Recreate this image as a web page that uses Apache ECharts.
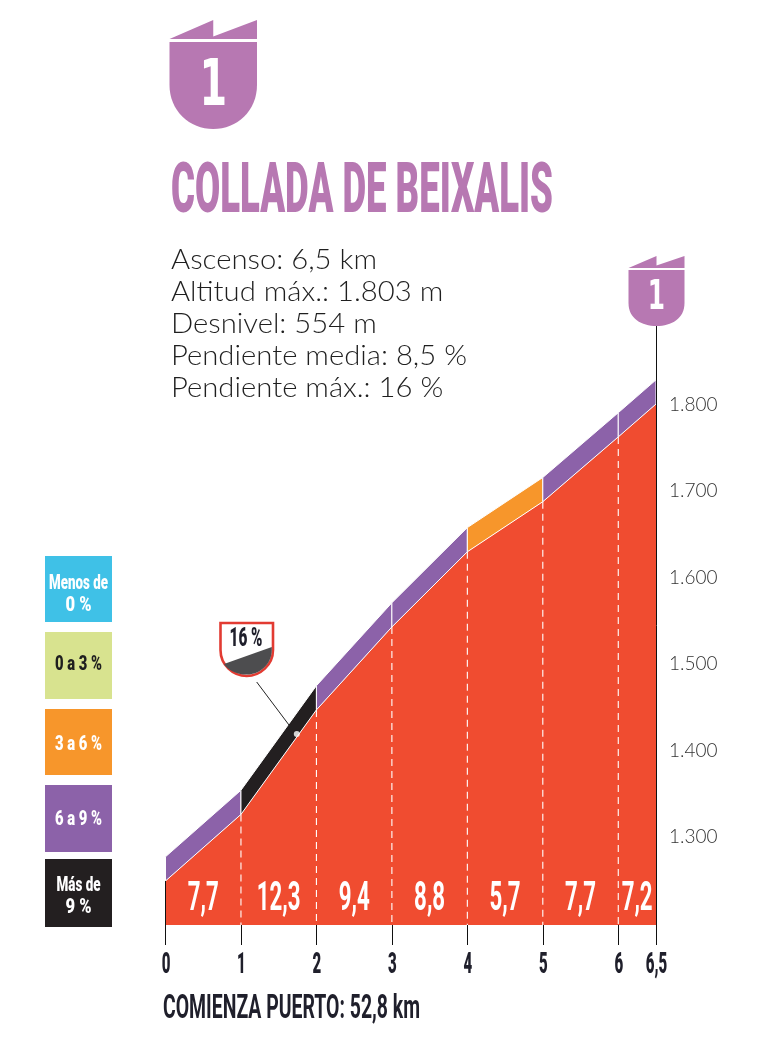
<!DOCTYPE html>
<html><head><meta charset="utf-8">
<style>html,body{margin:0;padding:0;background:#fff}#c{width:780px;height:1050px}</style>
<script src="https://cdn.jsdelivr.net/npm/echarts@6/dist/echarts.min.js"></script>
</head><body><div id="c"></div>
<script>
const kms=[0,1,2,3,4,5,6,6.5];
const altitudes=[1249,1326,1447,1543,1630,1688,1763,1801];
const gradients=['7,7','12,3','9,4','8,8','5,7','7,7','7,2'];
const bandColors=['#8c62a9','#231f20','#8c62a9','#8c62a9','#f7962b','#8c62a9','#8c62a9'];
const altitudeTicks=[1300,1400,1500,1600,1700,1800];
const kmLabels=['0','1','2','3','4','5','6','6,5'];
const steepest=[1.74,1419];
const titleText='COLLADA DE BEIXALIS';
const startText='COMIENZA PUERTO: 52,8 km';
const infoLines=['Ascenso: 6,5 km','Altitud máx.: 1.803 m','Desnivel: 554 m','Pendiente media: 8,5 %','Pendiente máx.: 16 %'];
const legendColors=['#3fc1e7','#d8e38f','#f7962b','#8c62a9','#231f20'];
const legendLabels=[['Menos de','0 %'],['0 a 3 %'],['3 a 6 %'],['6 a 9 %'],['Más de','9 %']];

const BAND=28, PURPLE='#b778b2', RED='#f04c30', DARK='#1f1f2b';
const COND='Roboto, "Liberation Sans", sans-serif';
const mctx=document.createElement('canvas').getContext('2d');
function fitScale(text,font,w){mctx.font=font;return w/mctx.measureText(text).width;}
function fitText(text,x,y,size,w,fill,align,weight){
  const font=(weight||900)+' '+size+'px '+COND;
  return {type:'text',z:20,x:x,y:y,scaleX:fitScale(text,font,w),
    style:{text:text,x:0,y:0,font:font,fill:fill,textAlign:align||'left',textVerticalAlign:'middle'}};
}
let pathCount=0;
function svgPath(d,style){
  const name='deco'+(pathCount++);
  echarts.graphic.registerShape(name,echarts.graphic.extendPath(d,{}));
  return {type:name,z:20,style:style};
}
function shield(x,w,flagTop,flagBase,shTop,curveY,botY,numSize,numY,numScale){
  const r=x+w,m=x+w/2;
  return [
    {type:'polygon',z:20,shape:{points:[[x,flagBase],[m,flagTop],[m,flagBase-2.5],[r,flagTop],[r,flagBase]]},style:{fill:PURPLE}},
    svgPath(`M${x} ${shTop}H${r}V${curveY}C${r} ${(curveY+botY)/2+4} ${m+w*0.27} ${botY} ${m} ${botY}C${m-w*0.27} ${botY} ${x} ${(curveY+botY)/2+4} ${x} ${curveY}Z`,{fill:PURPLE}),
    {type:'text',z:21,x:m,y:numY,scaleX:numScale,style:{text:'1',x:0,y:0,font:'bold '+numSize+'px "DejaVu Sans"',fill:'#fff',textAlign:'center',textVerticalAlign:'middle'}}
  ];
}
const graphics=[];
graphics.push(...shield(169.5,87.5,20,39,42,85,129,64,88,0.62));
graphics.push(...shield(628.5,56,256,268,270,303,326,40,299,0.62));
graphics.push(fitText(titleText,171,194,70,382,PURPLE));
const infoFont='300 28px Lato, sans-serif';
const infoScale=fitScale(infoLines[3],infoFont,296);
infoLines.forEach((t,i)=>graphics.push({type:'text',z:20,x:171,y:260+i*32,scaleX:infoScale,style:{text:t,x:0,y:0,font:infoFont,fill:'#1f1f1f',textVerticalAlign:'middle'}}));
graphics.push(fitText(startText,163,1009,34,257,DARK,'left',700));
const legendY=[[556,622],[632,699],[709,775],[785,852],[859,927]];
const legendTextY=[[584,606],[665],[745],[820],[886,908]];
const legendW=[[59,26],[47],[47],[47],[44,26]];
legendColors.forEach((c,i)=>{
  const [a,b]=legendY[i];
  graphics.push({type:'rect',z:20,shape:{x:45,y:a,width:67,height:b-a},style:{fill:c}});
  const fill=i===1?'#1f1f1f':'#fff';
  legendLabels[i].forEach((t,j)=>graphics.push(fitText(t,78.5,legendTextY[i][j],21,legendW[i][j],fill,'center')));
});
// callout for the steepest point
graphics.push(
 {type:'line',z:20,shape:{x1:256.7,y1:682,x2:292,y2:729},style:{stroke:'#222',lineWidth:1}},
 svgPath('M220.5 623H273V650C273 665 260 676 246.7 676C233 676 220.5 665 220.5 650Z',{fill:'#fff',stroke:'#e23b32',lineWidth:2.6}),
 svgPath('M224 664L271.8 647V650C271.8 664 260 674.6 246.7 674.6C236 674.6 228 670 224 664Z',{fill:'#4d4d4f'}),
 fitText('16 %',246,640,25,33,DARK,'center')
);

function band(params,api){
  const i=params.dataIndex;
  const a=api.coord([kms[i],altitudes[i]]),b=api.coord([kms[i+1],altitudes[i+1]]);
  const c=api.coord([kms[i+1],altitudes[i+1]+BAND]),d=api.coord([kms[i],altitudes[i]+BAND]);
  return {type:'polygon',shape:{points:[a,b,c,d]},style:{fill:bandColors[i],stroke:'#fff',lineWidth:1}};
}
function guide(params,api){
  const i=params.dataIndex;
  const top=api.coord([kms[i],altitudes[i]]),bot=api.coord([kms[i],1198]);
  if(i===0) return {type:'line',shape:{x1:top[0],y1:top[1],x2:bot[0],y2:bot[1]},style:{stroke:'#111',lineWidth:1}};
  if(i===kms.length-1) return null;
  return {type:'line',shape:{x1:top[0],y1:top[1],x2:bot[0],y2:bot[1]},style:{stroke:'#fff',lineWidth:1.1,lineDash:[7,5]}};
}
const segFont='700 41px '+COND;
const segScale=fitScale('7,7',segFont,31);
function segLabel(params,api){
  const i=params.dataIndex;
  const p=api.coord([(kms[i]+kms[i+1])/2,1227]);
  return {type:'text',x:p[0],y:p[1],scaleX:segScale,style:{text:gradients[i],x:0,y:0,font:segFont,fill:'#fff',textAlign:'center',textVerticalAlign:'middle'}};
}
const kmFont='900 29px '+COND;
const kmScale=fitScale('6,5',kmFont,21.5);
function kmLabel(params,api){
  const i=params.dataIndex;
  const p=api.coord([kms[i],1198]);
  return {type:'text',x:p[0]+0.5,y:p[1]+41,scaleX:kmScale,style:{text:kmLabels[i],x:0,y:0,font:kmFont,fill:DARK,textAlign:'center',textVerticalAlign:'middle'}};
}
const chart=echarts.init(document.getElementById('c'));
chart.setOption({
  animation:false,
  backgroundColor:'#fff',
  graphic:{elements:graphics},
  grid:{left:165.5,right:780-656,top:326.3,bottom:1050-925,containLabel:false},
  xAxis:{type:'value',min:0,max:6.5,splitLine:{show:false},
    axisLine:{show:false},
    axisTick:{show:true,length:20,customValues:kms,lineStyle:{color:'#111',width:1}},
    axisLabel:{show:false}},
  yAxis:{type:'value',position:'right',min:1198,max:1891,z:5,splitLine:{show:false},
    axisLine:{show:true,onZero:false,lineStyle:{color:'#111',width:1}},
    axisTick:{show:false},
    axisLabel:{show:true,customValues:altitudeTicks,margin:13,formatter:v=>(v/1000).toFixed(3),color:'#333',fontFamily:'Lato, sans-serif',fontWeight:300,fontSize:19}},
  series:[
    {name:'Altitud',type:'line',data:kms.map((k,i)=>[k,altitudes[i]]),symbol:'none',z:2,lineStyle:{width:0},areaStyle:{color:RED,opacity:1,origin:'start'}},
    {name:'Pendiente',type:'custom',renderItem:band,data:gradients.map((g,i)=>[kms[i],altitudes[i]]),z:3,silent:true},
    {name:'Km',type:'custom',renderItem:guide,data:kms.map((k,i)=>[k,altitudes[i]]),z:4,silent:true},
    {name:'Porcentaje',type:'custom',renderItem:segLabel,data:gradients.map((g,i)=>[kms[i],altitudes[i]]),z:4,silent:true},
    {name:'Etiquetas km',type:'custom',renderItem:kmLabel,clip:false,data:kms.map((k,i)=>[k,altitudes[i]]),z:4,silent:true},
    {name:'Máxima',type:'scatter',data:[steepest],symbol:'circle',symbolSize:6,z:6,itemStyle:{color:'#fff'},silent:true}
  ]
});
</script></body></html>
